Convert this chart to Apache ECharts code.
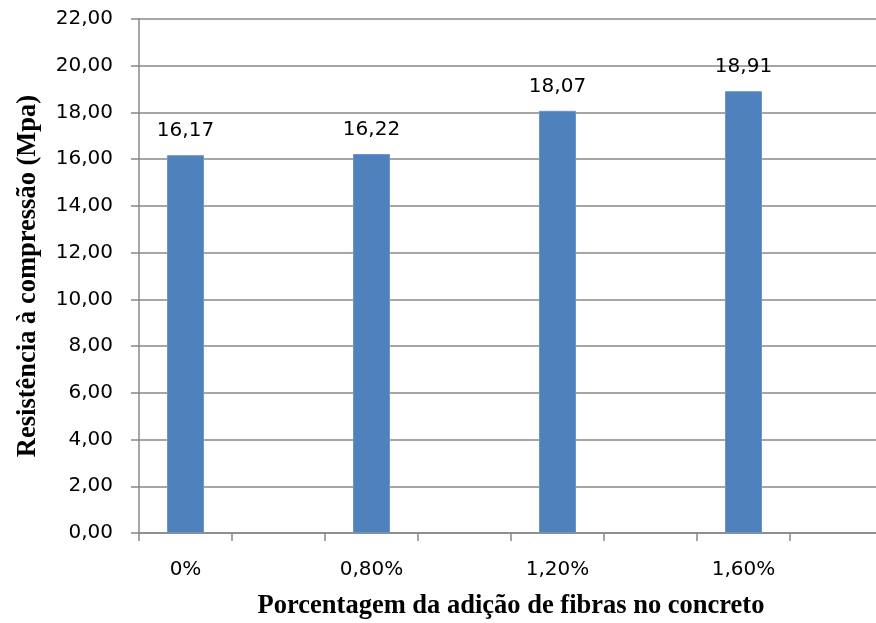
<!DOCTYPE html>
<html>
<head>
<meta charset="utf-8">
<script src="https://cdn.jsdelivr.net/npm/echarts@6/dist/echarts.min.js"></script>
<style>
  html, body { margin: 0; padding: 0; background: #fff; }
  #chart { width: 876px; height: 623px; }
</style>
</head>
<body>
<div id="chart"></div>
<script>
// Fibre content slots; the blank slots keep the wide spacing between bars
const categories = ['0%', '', '0,80%', '', '1,20%', '', '1,60%', ''];
// Compressive strength (MPa) per slot
const strength = [16.17, null, 16.22, null, 18.07, null, 18.91, null];
const yTicks = { min: 0, max: 22, interval: 2 };

const fmt = v => v.toFixed(2).replace('.', ',');
const gridColor = '#888888';
const labelFont = { fontFamily: 'DejaVu Sans', fontSize: 20, color: '#000' };
const titleStyle = { fontFamily: 'Liberation Serif', fontWeight: 'bold', fontSize: 26.5, color: '#000' };

const chart = echarts.init(document.getElementById('chart'));
chart.setOption({
  animation: false,
  grid: {
    left: 139, top: 19, width: 744, height: 514,
    containLabel: false, outerBoundsMode: 'none'
  },
  xAxis: {
    type: 'category',
    data: categories,
    boundaryGap: true,
    axisLine: { lineStyle: { color: gridColor, width: 1.5 } },
    axisTick: { show: true, length: 8, inside: false, interval: 0,
                lineStyle: { color: gridColor, width: 1.5 } },
    axisLabel: Object.assign({ interval: 0, margin: 27 }, labelFont),
    name: 'Porcentagem da adição de fibras no concreto',
    nameLocation: 'middle',
    nameGap: 60,
    nameTextStyle: titleStyle
  },
  yAxis: {
    type: 'value',
    min: yTicks.min, max: yTicks.max, interval: yTicks.interval,
    axisLine: { show: true, lineStyle: { color: gridColor, width: 1.5 } },
    axisTick: { show: true, length: 8, lineStyle: { color: gridColor, width: 1.5 } },
    splitLine: { show: true, lineStyle: { color: gridColor, width: 1.5 } },
    axisLabel: Object.assign({ margin: 26, formatter: fmt }, labelFont),
    name: 'Resistência à compressão (Mpa)',
    nameLocation: 'middle',
    nameGap: 97,
    nameRotate: 90,
    nameTextStyle: titleStyle
  },
  series: [{
    type: 'bar',
    data: strength,
    barWidth: 37,
    itemStyle: { color: '#4F81BD', borderColor: '#6a95c8', borderWidth: 1 },
    label: Object.assign({
      show: true, position: 'top', distance: 14,
      formatter: p => fmt(p.value)
    }, labelFont)
  }]
});
</script>
</body>
</html>
